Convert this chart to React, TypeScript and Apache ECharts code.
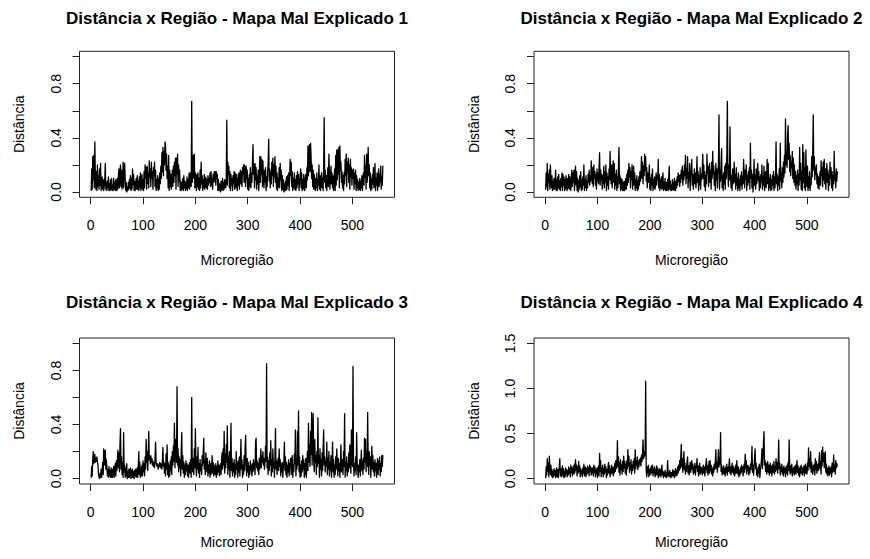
import React, { useEffect, useRef } from "react";
import * as echarts from "echarts";

// ---- Data ----
const titles = [
  "Distância x Região - Mapa Mal Explicado 1",
  "Distância x Região - Mapa Mal Explicado 2",
  "Distância x Região - Mapa Mal Explicado 3",
  "Distância x Região - Mapa Mal Explicado 4",
];
const xName = "Microregião";
const yName = "Distância";

const xTicks = [0, 100, 200, 300, 400, 500];
const yTicksA = [0, 0.2, 0.4, 0.6, 0.8, 1.0];
const yLabelsA = [0, 0.4, 0.8];
const yTicksB = [0, 0.5, 1.0, 1.5];
const yLabelsB = [0, 0.5, 1.0, 1.5];
const yLimA = [0, 1];
const yLimB = [0, 1.5];

const dist1 = [
  .01,.17,.02,.26,.09,.27,.03,.37,.12,.02,
  .15,.01,.20,.04,.12,.02,.17,.05,.21,.01,
  .07,.11,.02,.09,.01,.04,.10,.21,.02,.07,
  .01,.08,.03,.11,.01,.06,.01,.09,.02,.10,
  .01,.05,.01,.10,.02,.07,.01,.09,.03,.01,
  .10,.02,.12,.17,.03,.14,.20,.04,.16,.02,
  .08,.22,.03,.14,.21,.09,.01,.07,.00,.03,
  .01,.07,.02,.09,.03,.12,.01,.10,.02,.17,
  .05,.13,.01,.08,.01,.04,.10,.02,.12,.02,
  .08,.01,.11,.03,.14,.01,.07,.13,.02,.09,
  .01,.15,.03,.20,.10,.18,.02,.19,.06,.14,
  .03,.23,.11,.17,.04,.22,.10,.15,.02,.18,
  .12,.22,.04,.16,.01,.09,.03,.12,.01,.10,
  .02,.14,.06,.19,.10,.29,.15,.33,.12,.30,
  .20,.37,.34,.16,.28,.10,.19,.03,.27,.01,
  .16,.04,.13,.02,.10,.16,.04,.19,.07,.22,
  .12,.25,.02,.25,.13,.28,.04,.20,.08,.16,
  .01,.08,.01,.07,.02,.10,.01,.12,.03,.08,
  .01,.07,.02,.11,.01,.09,.03,.14,.02,.12,
  .14,.04,.67,.07,.16,.27,.10,.28,.03,.14,
  .08,.01,.13,.04,.14,.02,.10,.01,.16,.03,
  .22,.06,.12,.01,.09,.03,.13,.02,.08,.11,
  .03,.09,.02,.12,.05,.10,.07,.14,.04,.15,
  .05,.10,.02,.13,.07,.15,.08,.15,.05,.15,
  .10,.13,.01,.09,.01,.06,.02,.00,.08,.01,
  .04,.10,.01,.07,.02,.09,.05,.03,.10,.53,
  .05,.22,.13,.19,.03,.15,.01,.13,.05,.10,
  .01,.12,.06,.15,.02,.14,.08,.03,.13,.01,
  .10,.05,.14,.02,.12,.16,.06,.15,.04,.18,
  .13,.20,.07,.20,.14,.04,.19,.10,.16,.02,
  .10,.01,.13,.04,.18,.03,.14,.07,.22,.35,
  .13,.20,.03,.21,.09,.18,.02,.12,.06,.16,
  .01,.11,.26,.07,.26,.13,.24,.04,.23,.10,
  .03,.16,.07,.18,.01,.11,.04,.15,.21,.39,
  .08,.17,.03,.15,.06,.22,.12,.25,.04,.20,
  .11,.26,.07,.19,.02,.14,.01,.10,.04,.18,
  .03,.21,.09,.16,.01,.12,.02,.09,.00,.06,
  .01,.08,.01,.11,.02,.12,.05,.14,.01,.09,
  .24,.12,.22,.04,.15,.01,.10,.03,.14,.02,
  .09,.01,.12,.03,.15,.06,.13,.01,.07,.10,
  .17,.03,.14,.01,.09,.02,.13,.05,.01,.10,
  .13,.03,.18,.09,.34,.12,.28,.35,.15,.36,
  .26,.10,.20,.04,.16,.02,.13,.06,.01,.10,
  .03,.14,.01,.09,.05,.20,.02,.12,.01,.08,
  .14,.03,.10,.01,.21,.55,.07,.16,.03,.12,
  .01,.10,.18,.04,.28,.13,.02,.12,.19,.06,
  .14,.03,.12,.01,.09,.17,.01,.27,.05,.31,
  .09,.31,.13,.33,.03,.34,.16,.22,.07,.15,
  .03,.12,.01,.14,.06,.24,.12,.28,.04,.22,
  .14,.25,.07,.20,.02,.24,.11,.18,.05,.16,
  .10,.17,.02,.14,.06,.16,.01,.12,.03,.09,
  .01,.07,.02,.10,.01,.08,.03,.12,.01,.09,
  .14,.05,.27,.11,.19,.02,.28,.07,.15,.33,
  .12,.20,.03,.14,.01,.10,.02,.13,.06,.18,
  .03,.12,.21,.01,.10,.05,.14,.01,.09,.17,
  .04,.13,.07,.19,.02,.11,.05,.19,
];

const dist2 = [
  .02,.14,.04,.21,.01,.13,.07,.16,.02,.20,
  .10,.03,.12,.01,.08,.02,.10,.02,.07,.16,
  .01,.09,.01,.11,.03,.13,.02,.08,.01,.10,
  .04,.14,.01,.13,.05,.11,.01,.09,.02,.12,
  .05,.01,.10,.03,.13,.02,.11,.06,.01,.12,
  .16,.04,.14,.07,.16,.01,.13,.19,.05,.15,
  .01,.10,.00,.08,.02,.12,.04,.15,.01,.09,
  .02,.11,.05,.20,.01,.09,.03,.12,.01,.08,
  .03,.13,.07,.16,.05,.12,.08,.23,.14,.06,
  .18,.04,.20,.10,.15,.05,.13,.02,.17,.08,
  .14,.06,.19,.29,.05,.16,.09,.13,.02,.12,
  .06,.19,.03,.15,.07,.20,.01,.14,.05,.11,
  .02,.17,.09,.30,.13,.06,.20,.03,.15,.23,
  .07,.21,.02,.13,.05,.16,.01,.11,.03,.19,
  .33,.06,.12,.01,.10,.02,.09,.01,.07,.01,
  .08,.01,.05,.10,.02,.13,.05,.16,.07,.21,
  .11,.18,.03,.15,.09,.20,.02,.12,.19,.05,
  .14,.01,.09,.03,.12,.01,.08,.02,.11,.05,
  .15,.08,.13,.26,.10,.22,.06,.19,.12,.28,
  .16,.26,.08,.18,.03,.14,.07,.12,.20,.02,
  .10,.01,.13,.05,.17,.01,.09,.03,.11,.02,
  .08,.14,.05,.12,.09,.24,.03,.13,.01,.09,
  .03,.11,.02,.08,.14,.01,.07,.02,.10,.01,
  .07,.01,.05,.09,.01,.12,.19,.02,.08,.01,
  .05,.01,.09,.02,.07,.01,.10,.04,.01,.08,
  .03,.11,.05,.14,.08,.12,.04,.13,.07,.16,
  .10,.19,.05,.15,.09,.20,.12,.27,.06,.17,
  .10,.26,.03,.14,.08,.21,.01,.12,.16,.24,
  .05,.13,.02,.10,.17,.06,.14,.03,.11,.26,
  .07,.15,.01,.12,.05,.18,.02,.13,.09,.16,
  .28,.10,.20,.04,.15,.01,.12,.06,.28,.14,
  .19,.04,.13,.21,.07,.16,.02,.22,.10,.30,
  .13,.19,.05,.15,.01,.21,.09,.17,.03,.13,
  .21,.57,.02,.16,.08,.22,.32,.03,.12,.01,
  .14,.06,.19,.02,.21,.10,.28,.67,.13,.04,
  .20,.09,.48,.15,.03,.12,.01,.17,.06,.11,
  .22,.07,.13,.02,.18,.05,.10,.01,.14,.03,
  .09,.01,.12,.05,.15,.02,.11,.06,.24,.13,
  .03,.16,.09,.20,.01,.12,.05,.15,.07,.18,
  .02,.36,.10,.16,.03,.13,.00,.09,.24,.05,
  .12,.02,.17,.06,.14,.21,.08,.15,.01,.11,
  .03,.13,.07,.20,.02,.12,.05,.19,.01,.10,
  .15,.03,.11,.24,.06,.21,.01,.10,.03,.13,
  .01,.09,.02,.12,.05,.15,.01,.11,.03,.14,
  .37,.06,.13,.01,.11,.05,.17,.02,.36,.08,
  .14,.03,.18,.07,.22,.11,.27,.14,.54,.20,
  .30,.18,.42,.49,.24,.36,.15,.27,.12,.22,
  .18,.30,.10,.25,.07,.20,.05,.15,.02,.12,
  .06,.16,.01,.13,.05,.33,.09,.21,.02,.15,
  .01,.35,.07,.29,.03,.18,.01,.31,.12,.04,
  .19,.01,.11,.03,.15,.01,.10,.05,.26,.11,
  .28,.57,.16,.26,.09,.18,.13,.20,.06,.13,
  .03,.11,.02,.09,.15,.05,.23,.12,.18,.04,
  .22,.09,.24,.06,.17,.02,.14,.21,.07,.16,
  .01,.13,.05,.22,.10,.18,.03,.15,.01,.12,
  .06,.30,.09,.14,.03,.17,.08,.15,
];

const dist3 = [
  .01,.09,.02,.14,.20,.11,.17,.18,.12,.15,
  .13,.16,.12,.10,.03,.01,.00,.04,.01,.07,
  .01,.06,.12,.03,.22,.10,.16,.21,.07,.14,
  .14,.02,.07,.01,.09,.02,.06,.01,.08,.01,
  .07,.01,.05,.09,.01,.07,.11,.02,.13,.06,
  .13,.21,.08,.19,.05,.25,.37,.07,.16,.03,
  .12,.01,.34,.05,.10,.01,.08,.02,.11,.00,
  .05,.01,.07,.01,.04,.08,.00,.06,.01,.07,
  .01,.05,.00,.06,.02,.07,.01,.04,.08,.01,
  .09,.20,.03,.12,.01,.08,.02,.10,.02,.13,
  .05,.11,.02,.16,.07,.29,.12,.20,.06,.18,
  .35,.14,.16,.11,.17,.12,.15,.10,.13,.09,
  .11,.08,.15,.27,.12,.10,.09,.11,.07,.10,
  .09,.12,.08,.11,.10,.07,.13,.23,.09,.12,
  .04,.11,.02,.18,.07,.25,.03,.12,.01,.10,
  .02,.13,.06,.16,.03,.20,.10,.24,.13,.41,
  .08,.29,.18,.12,.68,.10,.22,.05,.16,.08,
  .14,.02,.20,.34,.07,.17,.04,.12,.01,.10,
  .03,.13,.06,.11,.02,.10,.01,.09,.12,.04,
  .14,.01,.60,.10,.05,.15,.03,.22,.08,.37,
  .12,.02,.16,.07,.23,.04,.11,.01,.14,.06,
  .10,.03,.17,.10,.20,.30,.07,.14,.03,.19,
  .12,.05,.15,.02,.10,.04,.13,.01,.11,.03,
  .09,.17,.04,.12,.02,.10,.06,.03,.11,.01,
  .09,.03,.13,.05,.10,.02,.08,.11,.03,.14,
  .19,.07,.22,.10,.35,.04,.18,.08,.25,.12,
  .39,.03,.16,.07,.20,.01,.13,.41,.06,.15,
  .02,.11,.05,.14,.01,.10,.03,.20,.07,.12,
  .01,.13,.05,.16,.02,.11,.29,.07,.14,.01,
  .10,.03,.17,.06,.22,.32,.10,.02,.15,.05,
  .12,.01,.09,.03,.13,.06,.10,.02,.11,.05,
  .14,.07,.12,.03,.27,.30,.08,.13,.06,.11,
  .03,.15,.07,.12,.22,.08,.17,.12,.20,.10,
  .15,.07,.12,.24,.13,.85,.08,.16,.03,.13,
  .06,.19,.10,.28,.02,.14,.05,.22,.08,.12,
  .01,.17,.37,.07,.13,.03,.11,.15,.06,.22,
  .09,.14,.02,.11,.05,.12,.01,.09,.13,.27,
  .06,.16,.03,.12,.01,.10,.05,.14,.02,.11,
  .08,.15,.03,.13,.17,.01,.10,.05,.18,.11,
  .36,.02,.14,.07,.35,.10,.50,.05,.16,.01,
  .10,.02,.13,.05,.17,.07,.14,.01,.11,.03,
  .15,.01,.12,.20,.06,.41,.12,.25,.09,.35,
  .18,.49,.10,.30,.48,.14,.05,.29,.12,.17,
  .03,.20,.09,.45,.11,.17,.01,.22,.07,.14,
  .02,.19,.06,.24,.36,.10,.16,.05,.13,.09,
  .27,.03,.15,.07,.20,.02,.12,.06,.17,.01,
  .11,.27,.05,.14,.01,.10,.03,.16,.07,.22,
  .12,.02,.15,.06,.11,.01,.13,.25,.05,.10,
  .14,.03,.20,.09,.48,.01,.12,.06,.16,.02,
  .11,.05,.19,.08,.25,.12,.04,.36,.16,.09,
  .83,.13,.02,.11,.06,.16,.03,.34,.12,.07,
  .01,.10,.05,.14,.02,.11,.21,.06,.13,.03,
  .15,.07,.30,.12,.29,.05,.18,.09,.49,.13,
  .03,.20,.10,.16,.01,.13,.24,.07,.17,.05,
  .12,.02,.14,.06,.11,.01,.10,.15,.03,.13,
  .07,.16,.02,.11,.05,.17,.09,.17,
];

const dist4 = [
  .01,.13,.04,.22,.08,.17,.02,.25,.11,.05,
  .15,.03,.10,.01,.08,.02,.11,.04,.09,.01,
  .06,.12,.02,.10,.01,.08,.13,.22,.03,.11,
  .02,.09,.14,.03,.11,.01,.08,.02,.12,.05,
  .10,.02,.09,.04,.13,.06,.11,.02,.15,.07,
  .12,.03,.10,.14,.05,.16,.07,.21,.10,.15,
  .03,.13,.06,.19,.08,.14,.02,.11,.05,.09,
  .02,.12,.06,.16,.03,.10,.13,.02,.11,.05,
  .14,.07,.12,.03,.15,.08,.13,.04,.11,.06,
  .12,.03,.15,.07,.13,.02,.10,.05,.12,.01,
  .07,.14,.03,.28,.08,.20,.02,.12,.06,.15,
  .02,.11,.05,.16,.07,.13,.01,.10,.04,.12,
  .18,.06,.14,.02,.11,.05,.15,.07,.12,.03,
  .13,.06,.17,.08,.20,.11,.16,.42,.13,.24,
  .07,.18,.04,.21,.10,.15,.05,.19,.08,.25,
  .12,.19,.06,.16,.04,.20,.11,.32,.14,.25,
  .07,.17,.10,.21,.05,.15,.09,.19,.12,.22,
  .06,.32,.11,.20,.15,.24,.10,.19,.13,.21,
  .16,.23,.14,.26,.19,.28,.43,.22,.30,.25,
  .29,1.08,.09,.02,.13,.06,.15,.02,.10,.04,
  .12,.05,.14,.07,.15,.03,.11,.06,.13,.02,
  .10,.04,.14,.05,.12,.01,.09,.03,.11,.05,
  .02,.10,.15,.04,.08,.01,.07,.03,.09,.02,
  .06,.01,.08,.20,.03,.07,.02,.09,.04,.01,
  .07,.02,.06,.10,.03,.08,.01,.07,.11,.03,
  .09,.04,.13,.06,.15,.09,.20,.11,.24,.38,
  .13,.22,.07,.18,.30,.10,.17,.05,.13,.08,
  .19,.24,.06,.14,.04,.12,.18,.07,.15,.20,
  .10,.16,.05,.13,.07,.17,.04,.12,.14,.22,
  .08,.14,.03,.11,.17,.05,.13,.07,.12,.04,
  .10,.15,.06,.13,.03,.11,.16,.22,.07,.14,
  .04,.12,.19,.06,.20,.09,.15,.05,.11,.03,
  .13,.07,.16,.10,.19,.32,.11,.18,.07,.20,
  .32,.13,.23,.16,.51,.08,.15,.04,.12,.06,
  .14,.05,.11,.03,.13,.07,.16,.04,.12,.08,
  .15,.22,.06,.13,.04,.11,.17,.07,.14,.05,
  .12,.03,.10,.15,.06,.20,.10,.05,.13,.02,
  .09,.04,.12,.06,.15,.08,.13,.03,.11,.16,
  .07,.27,.12,.20,.05,.15,.09,.14,.04,.12,
  .06,.16,.10,.18,.36,.07,.15,.04,.13,.24,
  .33,.11,.17,.04,.10,.02,.13,.06,.16,.01,
  .09,.14,.20,.33,.11,.24,.41,.52,.15,.20,
  .08,.17,.05,.13,.19,.07,.15,.04,.12,.17,
  .06,.14,.03,.11,.16,.07,.19,.05,.13,.08,
  .22,.10,.18,.06,.15,.43,.11,.17,.04,.13,
  .08,.16,.05,.12,.03,.14,.07,.11,.02,.13,
  .06,.15,.04,.18,.09,.43,.11,.05,.14,.07,
  .16,.03,.11,.06,.13,.04,.10,.15,.05,.12,
  .20,.07,.14,.04,.11,.02,.13,.06,.15,.08,
  .04,.12,.07,.14,.03,.11,.16,.06,.13,.05,
  .17,.09,.34,.14,.22,.11,.30,.07,.18,.12,
  .05,.14,.09,.16,.04,.22,.10,.19,.06,.13,
  .16,.09,.20,.29,.11,.18,.05,.31,.14,.35,
  .19,.28,.12,.22,.30,.07,.16,.05,.12,.03,
  .10,.14,.04,.11,.06,.13,.02,.17,.07,.12,
  .26,.08,.15,.05,.20,.12,.17,.14,
];

// ---- Layout ----
const FONT = '"Liberation Sans", Arial, Helvetica, sans-serif';
const LEFTS = [79.5, 534];
const TOPS = [51.3, 338];
const W = 315;
const H = 146;
const TITLE_Y = [18.5, 302];
const XNAME_Y = [260, 542];
const YNAME_DX = 60.5;

const panels = [
  { title: titles[0], values: dist1, ylim: yLimA, yTicks: yTicksA, yLabels: yLabelsA },
  { title: titles[1], values: dist2, ylim: yLimA, yTicks: yTicksA, yLabels: yLabelsA },
  { title: titles[2], values: dist3, ylim: yLimA, yTicks: yTicksA, yLabels: yLabelsA },
  { title: titles[3], values: dist4, ylim: yLimB, yTicks: yTicksB, yLabels: yLabelsB },
];

function buildOption() {
  const grid: any[] = [];
  const xAxis: any[] = [];
  const yAxis: any[] = [];
  const series: any[] = [];
  const graphic: any[] = [];

  panels.forEach((p, i) => {
    const col = i % 2;
    const row = Math.floor(i / 2);
    const left = LEFTS[col];
    const top = TOPS[row];
    const n = p.values.length;
    const xPad = (n - 1) * 0.04;
    const yPad = (p.ylim[1] - p.ylim[0]) * 0.04;

    grid.push({
      left,
      top,
      width: W,
      height: H,
      show: true,
      borderColor: "#222",
      borderWidth: 1,
      backgroundColor: "transparent",
      containLabel: false,
    });

    xAxis.push({
      type: "value",
      gridIndex: i,
      position: "bottom",
      min: 1 - xPad,
      max: n + xPad,
      axisLine: { show: false, onZero: false },
      splitLine: { show: false },
      axisTick: {
        show: true,
        customValues: xTicks,
        length: 7,
        inside: false,
        lineStyle: { color: "#222", width: 1 },
      },
      axisLabel: {
        show: true,
        customValues: xTicks,
        margin: 21,
        color: "#000",
        fontSize: 14,
        fontFamily: FONT,
        formatter: (v: number) => String(v),
      },
    });

    yAxis.push({
      type: "value",
      gridIndex: i,
      position: "left",
      min: p.ylim[0] - yPad,
      max: p.ylim[1] + yPad,
      axisLine: { show: false, onZero: false },
      splitLine: { show: false },
      axisTick: {
        show: true,
        customValues: p.yTicks,
        length: 7,
        inside: false,
        lineStyle: { color: "#222", width: 1 },
      },
      axisLabel: {
        show: true,
        customValues: p.yLabels,
        rotate: 90,
        margin: 17,
        color: "#000",
        fontSize: 14,
        fontFamily: FONT,
        formatter: (v: number) => v.toFixed(1),
      },
    });

    series.push({
      type: "line",
      xAxisIndex: i,
      yAxisIndex: i,
      showSymbol: false,
      symbol: "none",
      data: p.values.map((v, k) => [k + 1, v]),
      lineStyle: { color: "#000", width: 1.3, join: "round", cap: "round" },
      itemStyle: { color: "#000" },
      silent: true,
    });

    graphic.push({
      type: "text",
      x: left + W / 2,
      y: TITLE_Y[row],
      style: {
        text: p.title,
        fontSize: 17,
        fontWeight: "bold",
        fontFamily: FONT,
        fill: "#000",
        align: "center",
        verticalAlign: "middle",
      },
    });
    graphic.push({
      type: "text",
      x: left + W / 2,
      y: XNAME_Y[row],
      style: {
        text: xName,
        fontSize: 14,
        fontFamily: FONT,
        fill: "#000",
        align: "center",
        verticalAlign: "middle",
      },
    });
    graphic.push({
      type: "text",
      x: left - YNAME_DX,
      y: top + H / 2,
      rotation: Math.PI / 2,
      style: {
        text: yName,
        fontSize: 14,
        fontFamily: FONT,
        fill: "#000",
        align: "center",
        verticalAlign: "middle",
      },
    });
  });

  return {
    animation: false,
    backgroundColor: "#fff",
    grid,
    xAxis,
    yAxis,
    series,
    graphic,
  };
}

export default function App() {
  const ref = useRef<HTMLDivElement>(null);
  useEffect(() => {
    if (!ref.current) return;
    const chart = echarts.init(ref.current, undefined, { renderer: "svg" });
    chart.setOption(buildOption() as any);
    return () => chart.dispose();
  }, []);
  return (
    <div
      ref={ref}
      style={{ position: "fixed", left: 0, top: 0, width: 870, height: 559, background: "#fff" }}
    />
  );
}
